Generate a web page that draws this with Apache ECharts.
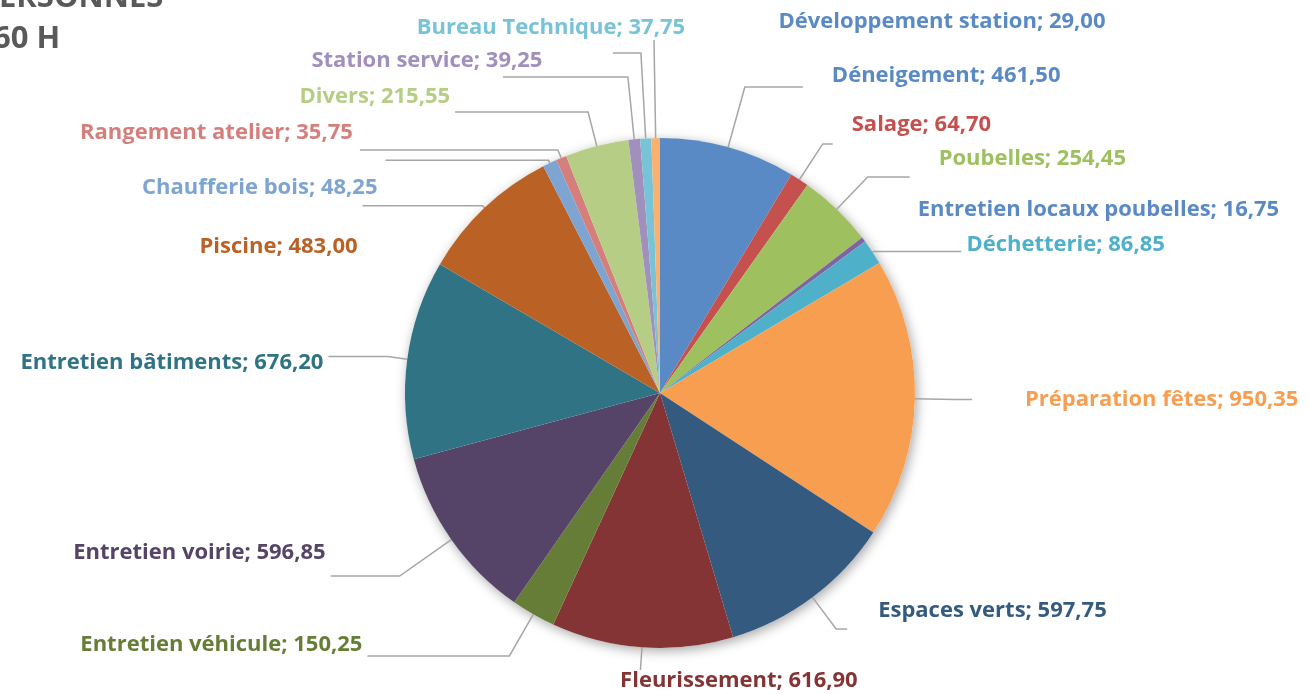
<!DOCTYPE html>
<html><head><meta charset="utf-8">
<script src="https://cdn.jsdelivr.net/npm/echarts@6/dist/echarts.min.js"></script>
<style>html,body{margin:0;padding:0;background:#fff}#c{width:1308px;height:694px}</style>
</head><body><div id="c"></div>
<script>
const categories = ['Déneigement','Salage','Poubelles','Entretien locaux poubelles','Déchetterie','Préparation fêtes','Espaces verts','Fleurissement','Entretien véhicule','Entretien voirie','Entretien bâtiments','Piscine','Chaufferie bois','Rangement atelier','Divers','Station service','Bureau Technique','Développement station'];
const values = [461.50,64.70,254.45,16.75,86.85,950.35,597.75,616.90,150.25,596.85,676.20,483.00,48.25,35.75,215.55,39.25,37.75,29.00];
const sliceColors = ['#5A8AC6','#C4514E','#9FC05E','#8064A2','#4FB0C9','#F89E50','#355A80','#843434','#667D37','#564468','#2F7384','#BA6125','#7EA4D2','#D57F7D','#B5CD84','#A18FBE','#78C3D6','#FAB170'];
const labelColors = ['#5A8AC6','#C4514E','#9FC05E','#5A8AC6','#4FB0C9','#F89E50','#355A80','#843434','#667D37','#564468','#2F7384','#BA6125','#7EA4D2','#D57F7D','#B5CD84','#A18FBE','#78C3D6','#5A8AC6'];
const titleLines = ['ERSONNES','60 H'];

// leader-line lengths and label offsets (style only): pad = [0, right, 0, left], dy = vertical text shift
const labelStyles = {
  'Déneigement': {len:62.6, len2:58, pad:[0,0,0,24], dy:-11},
  'Salage': {len:42.5, len2:10, pad:[0,0,0,14], dy:-19},
  'Poubelles': {len:44.6, len2:42, pad:[0,0,0,24], dy:-18},
  'Entretien locaux poubelles': {len:49, len2:10, pad:[0,0,0,0], dy:0, hideLine:true},
  'Déchetterie': {len:1, len2:88, pad:[0,0,0,0], dy:-6.5},
  'Préparation fêtes': {len:40, len2:17, pad:[0,0,0,48], dy:0},
  'Espaces verts': {len:39.5, len2:11, pad:[0,0,0,26], dy:-18},
  'Fleurissement': {len:22.7, len2:0, pad:[0,0,0,207], dy:11, align:'center'},
  'Entretien véhicule': {len:48, len2:142, pad:[0,0,0,0], dy:-11},
  'Entretien voirie': {len:63.3, len2:69, pad:[0,0,0,0], dy:-23},
  'Entretien bâtiments': {len:20, len2:59, pad:[0,0,0,0], dy:6.4},
  'Piscine': {len:3, len2:120, pad:[0,0,0,0], dy:41},
  'Chaufferie bois': {len:3, len2:163, pad:[0,3,0,0], dy:27},
  'Rangement atelier': {len:8.6, len2:198, pad:[0,2,0,0], dy:-17},
  'Divers': {len:35, len2:133, pad:[0,0,0,0], dy:-15},
  'Station service': {len:62.6, len2:125, pad:[0,142,0,0], dy:-16, align:'center'},
  'Bureau Technique': {len:85.5, len2:28, pad:[0,114,0,0], dy:-25, align:'center'},
  'Développement station': {len:98, len2:0, pad:[0,0,0,586], dy:-18, align:'center'}
};

const fmt = v => v.toFixed(2).replace('.', ',');
const chart = echarts.init(document.getElementById('c'), null, {renderer:'canvas'});
const CENTER = [660, 393], RADIUS = 255;

chart.setOption({
  animation: false,
  backgroundColor: '#ffffff',
  graphic: [
    {type:'text', x:-1, y:-2, style:{text:titleLines[0], fontFamily:'"Open Sans"', fontWeight:'bold', fontSize:31, fill:'#595959', verticalAlign:'middle'}},
    {type:'text', x:-7, y:39, style:{text:titleLines[1], fontFamily:'"Open Sans"', fontWeight:'bold', fontSize:31, fill:'#595959', verticalAlign:'middle'}}
  ],
  series: [
    {
      type:'pie', silent:true, z:1, center:CENTER, radius:RADIUS,
      label:{show:false}, labelLine:{show:false},
      data:[{value:1, itemStyle:{color:'#ffffff', shadowBlur:12, shadowColor:'rgba(0,0,0,0.35)', shadowOffsetX:2, shadowOffsetY:3}}]
    },
    {
      type:'pie', z:2, center:CENTER, radius:RADIUS, startAngle:90, clockwise:true,
      avoidLabelOverlap:false,
      itemStyle:{borderWidth:0},
      emphasis:{scale:false},
      label:{show:true, position:'outside', alignTo:'none', distanceToLabelLine:5,
        fontFamily:'"Open Sans"', fontWeight:'bold', fontSize:22,
        formatter: p => {
          const s = labelStyles[p.name];
          const t = p.name + '; ' + fmt(p.value);
          if (!s.dy) return t;
          return s.dy < 0 ? t + '\n ' : ' \n' + t;
        }},
      labelLine:{show:true, smooth:false, lineStyle:{color:'#a6a6a6', width:1.5}},
      labelLayout: function(params){
        const s = labelStyles[categories[params.dataIndex]];
        if (s && s.align) return {align: s.align};
        return {};
      },
      data: categories.map((name, i) => {
        const s = labelStyles[name];
        const lbl = {color: labelColors[i], padding: s.pad};
        if (s.dy) lbl.lineHeight = 2 * Math.abs(s.dy);
        return {
          name: name, value: values[i],
          itemStyle:{color: sliceColors[i]},
          label: lbl,
          labelLine:{length: s.len, length2: s.len2, show: !s.hideLine}
        };
      })
    }
  ]
});
</script></body></html>
